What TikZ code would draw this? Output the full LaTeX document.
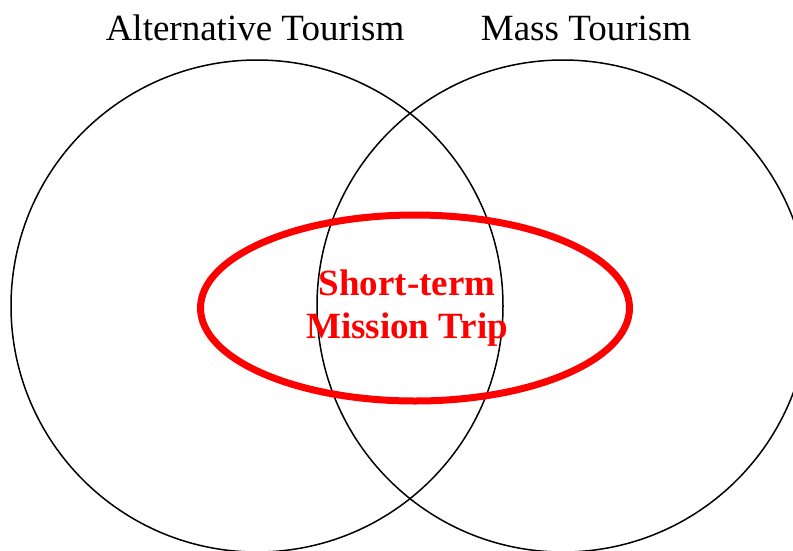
\documentclass[tikz,border=0pt]{standalone}
\usepackage{fontspec}
\setmainfont{Liberation Serif}
\usetikzlibrary{shapes.geometric, positioning}

\begin{document}
\begin{tikzpicture} [x=1pt, y=-1pt,
        set/.style = {circle, draw, line width=1.5pt, minimum size=492pt, inner sep=0pt},
        title/.style = {font=\fontsize{37}{43}\selectfont, anchor=base, inner sep=0pt},
        focus/.style = {ellipse, draw=red, line width=7pt, minimum width=429pt, minimum height=186pt, inner sep=0pt}]
        \useasboundingbox (0,0) rectangle (793,550);
        \clip (0,0) rectangle (793,550);
        \node (alt) [set] at (257,306) {};
        \node (mass) [set] at (563,306) {};
        \node (altname) [title] at (255,40) {Alternative Tourism};
        \node (massname) [title] at (586,40) {Mass Tourism};
        \node (trip) [focus] at (415,308) {};
        \node (tripname) [title, text=red, align=center, font=\fontsize{37}{43}\selectfont\bfseries] at (407,338) {Short-term\\Mission Trip};
    \end{tikzpicture}
\end{document}
